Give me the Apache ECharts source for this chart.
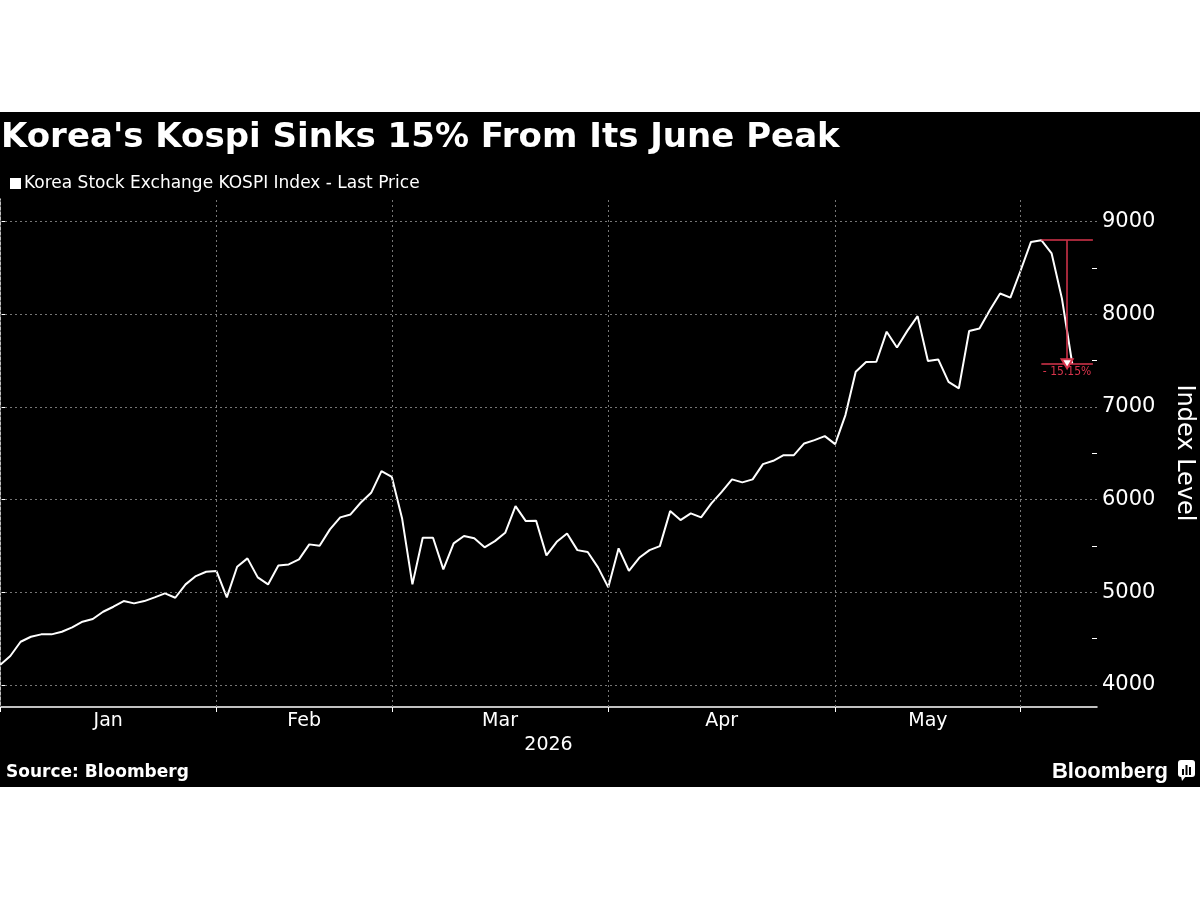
<!DOCTYPE html>
<html><head><meta charset="utf-8">
<script src="https://cdn.jsdelivr.net/npm/echarts@6/dist/echarts.min.js"></script>
<style>
html,body{margin:0;padding:0;background:#fff;width:1200px;height:900px;overflow:hidden}
#c{position:absolute;left:0;top:112px;width:1200px;height:675px;background:#000}
</style>
</head><body><div id="c"></div>
<script>
// ---- data ----
const tradeDates = [
 '2026-01-02','2026-01-05','2026-01-06','2026-01-07','2026-01-08','2026-01-09',
 '2026-01-12','2026-01-13','2026-01-14','2026-01-15','2026-01-16',
 '2026-01-19','2026-01-20','2026-01-21','2026-01-22','2026-01-23',
 '2026-01-26','2026-01-27','2026-01-28','2026-01-29','2026-01-30',
 '2026-02-02','2026-02-03','2026-02-04','2026-02-05','2026-02-06',
 '2026-02-09','2026-02-10','2026-02-11','2026-02-12','2026-02-13',
 '2026-02-19','2026-02-20',
 '2026-02-23','2026-02-24','2026-02-25','2026-02-26','2026-02-27',
 '2026-03-03','2026-03-04','2026-03-05','2026-03-06',
 '2026-03-09','2026-03-10','2026-03-11','2026-03-12','2026-03-13',
 '2026-03-16','2026-03-17','2026-03-18','2026-03-19','2026-03-20',
 '2026-03-23','2026-03-24','2026-03-25','2026-03-26','2026-03-27',
 '2026-03-30','2026-03-31',
 '2026-04-01','2026-04-02','2026-04-03',
 '2026-04-06','2026-04-07','2026-04-08','2026-04-09','2026-04-10',
 '2026-04-13','2026-04-14','2026-04-15','2026-04-16','2026-04-17',
 '2026-04-20','2026-04-21','2026-04-22','2026-04-23','2026-04-24',
 '2026-04-27','2026-04-28','2026-04-29','2026-04-30',
 '2026-05-04','2026-05-06','2026-05-07','2026-05-08',
 '2026-05-11','2026-05-12','2026-05-13','2026-05-14','2026-05-15',
 '2026-05-18','2026-05-19','2026-05-20','2026-05-21','2026-05-22',
 '2026-05-26','2026-05-27','2026-05-28','2026-05-29',
 '2026-06-01','2026-06-02','2026-06-04','2026-06-05','2026-06-08','2026-06-09'
];
const kospiJan = [4216,4313,4467,4521,4547,4547,4575,4622,4683,4712,4791,4845,4906,4881,4906,4946,4989,4942,5086,5176,5222];
const kospiFeb = [5230,4946,5276,5367,5162,5086,5291,5302,5356,5518,5503,5680,5809,5841,5970,6074,6308];
const kospiMar = [6247,5798,5086,5589,5589,5248,5529,5608,5583,5486,5553,5643,5931,5769,5772,5399,5546,5636,5456,5435,5270];
const kospiApr = [5054,5475,5233,5373,5456,5499,5877,5780,5852,5809,5960,6085,6219,6187,6219,6384,6420,6481,6481,6607,6643,6686];
const kospiMay = [6600,6913,7381,7485,7489,7813,7643,7822,7981,7497,7514,7272,7201,7820,7848,8045,8225,8181];
const kospiJun = [8476,8782,8800,8657,8170,7467];
const kospi = [].concat(kospiJan,kospiFeb,kospiMar,kospiApr,kospiMay,kospiJun);

const yLabelValues = [4000,5000,6000,7000,8000,9000];
const yMinorValues = [4500,5500,6500,7500,8500];
const monthNames = ['Jan','Feb','Mar','Apr','May','Jun','Jul','Aug','Sep','Oct','Nov','Dec'];
const yearLabel = '2026';
const titleText = "Korea's Kospi Sinks 15% From Its June Peak";
const seriesName = 'Korea Stock Exchange KOSPI Index - Last Price';
const yAxisName = 'Index Level';
const sourceText = 'Source: Bloomberg';

// ---- derived ----
const points = kospi.map((v,i)=>[i,v]);
const monthStarts = [];
tradeDates.forEach((d,i)=>{ if(i===0 || d.slice(5,7)!==tradeDates[i-1].slice(5,7)) monthStarts.push(i); });
const labelPos = []; const labelName = {};
for(let k=0;k<monthStarts.length-1;k++){
  const m=(monthStarts[k]+monthStarts[k+1])/2; labelPos.push(m);
  labelName[m]=monthNames[parseInt(tradeDates[monthStarts[k]].slice(5,7),10)-1];
}
let peakIdx=0; kospi.forEach((v,i)=>{ if(v>kospi[peakIdx]) peakIdx=i; });
const peak=kospi[peakIdx], lastIdx=kospi.length-1, last=kospi[lastIdx];
const pct=((last/peak-1)*100).toFixed(2)+'%';

const X_MAX=106.4, Y_MIN=3763, Y_MAX=9245, ANNOT_END=106;
const annotMid=(peakIdx+ANNOT_END)/2;
const RED='#d8344c', GRID='#767676';
const FONT="'DejaVu Sans',sans-serif";
const CFONT="'DejaVu Sans Condensed','DejaVu Sans',sans-serif";

const chart = echarts.init(document.getElementById('c'), null, {renderer:'canvas'});
chart.setOption({
  backgroundColor:'#000',
  animation:false,
  textStyle:{fontFamily:FONT},
  title:{text:titleText,left:1,top:9,padding:0,textStyle:{color:'#fff',fontSize:34,fontWeight:'bold',fontFamily:FONT}},
  legend:{left:5,top:58,icon:'rect',itemWidth:11,itemHeight:11,itemGap:10,
    textStyle:{color:'#fff',fontSize:17,fontFamily:FONT,padding:[0,0,0,-2]},
    data:[{name:seriesName,itemStyle:{color:'#fff'}}]},
  grid:{left:0,right:103,top:87,bottom:80,outerBoundsMode:'none'},
  xAxis:{type:'value',min:0,max:X_MAX,
    axisLine:{show:true,lineStyle:{color:'#fff',width:1.5}},
    axisTick:{show:true,customValues:monthStarts,length:5,lineStyle:{color:'#fff',width:1}},
    axisLabel:{show:true,customValues:labelPos,formatter:v=>labelName[v]||'',color:'#fff',fontSize:19,margin:5,fontFamily:FONT},
    splitLine:{show:false},
    name:yearLabel,nameLocation:'middle',nameGap:29,nameTextStyle:{color:'#fff',fontSize:19,fontFamily:FONT}},
  yAxis:[
    {type:'value',position:'right',min:Y_MIN,max:Y_MAX,
     axisLine:{show:true,lineStyle:{color:'#fff',width:1.5}},
     axisTick:{show:true,customValues:yLabelValues,length:6,lineStyle:{color:'#fff',width:1}},
     axisLabel:{show:true,customValues:yLabelValues,formatter:v=>String(v),color:'#fff',fontSize:21,margin:5,fontFamily:FONT},
     splitLine:{show:false},
     name:yAxisName,nameLocation:'middle',nameRotate:-90,nameGap:75,
     nameTextStyle:{color:'#fff',fontSize:24,fontFamily:FONT}},
    {type:'value',position:'right',min:Y_MIN,max:Y_MAX,
     axisLine:{show:false},
     axisTick:{show:true,inside:true,customValues:yMinorValues,length:5,lineStyle:{color:'#fff',width:1}},
     axisLabel:{show:false},splitLine:{show:false}}
  ],
  series:[
    {name:'grid',type:'line',data:points,z:1,silent:true,showSymbol:false,
     lineStyle:{opacity:0,width:0},legendHoverLink:false,tooltip:{show:false},
     markLine:{silent:true,symbol:['none','none'],label:{show:false},animation:false,
       lineStyle:{color:GRID,type:[2,3],width:1},
       data:[].concat(yLabelValues.map(v=>({yAxis:v})), monthStarts.map(i=>({xAxis:i})))}},
    {name:seriesName,type:'line',data:points,z:3,showSymbol:false,smooth:false,
     lineStyle:{color:'#fff',width:2},itemStyle:{color:'#fff'},
     markLine:{silent:true,symbol:['none','none'],animation:false,
       lineStyle:{color:RED,width:1.5,type:'solid'},label:{show:false},
       data:[
         [{coord:[peakIdx,peak]},{coord:[ANNOT_END,peak]}],
         [{coord:[peakIdx,last],label:{show:true,position:'insideMiddleBottom',formatter:'- '+pct.replace('-',''),color:RED,fontSize:12,distance:2,fontFamily:CFONT}},{coord:[ANNOT_END,last]}],
         [{coord:[annotMid,peak]},{coord:[annotMid,last],symbol:'emptyTriangle',symbolSize:[11,9]}]
       ]}}
  ],
  graphic:[
    {type:'text',left:6,bottom:6,style:{text:sourceText,fill:'#fff',font:"bold 17px 'DejaVu Sans',sans-serif"}},
    {type:'text',right:32,bottom:4,style:{text:'Bloomberg',fill:'#fff',font:"bold 22px 'Liberation Sans',sans-serif"}},
    {type:'group',right:5,bottom:6,children:[
      {type:'rect',shape:{x:0,y:0,width:17,height:17,r:3},style:{fill:'#fff'}},
      {type:'polygon',shape:{points:[[3,16],[8,16],[4,21]]},style:{fill:'#fff'}},
      {type:'rect',shape:{x:4,y:9,width:2,height:6},style:{fill:'#000'}},
      {type:'rect',shape:{x:7.5,y:5,width:2,height:10},style:{fill:'#000'}},
      {type:'rect',shape:{x:11,y:7,width:2,height:8},style:{fill:'#000'}}
    ]}
  ]
});
</script></body></html>
